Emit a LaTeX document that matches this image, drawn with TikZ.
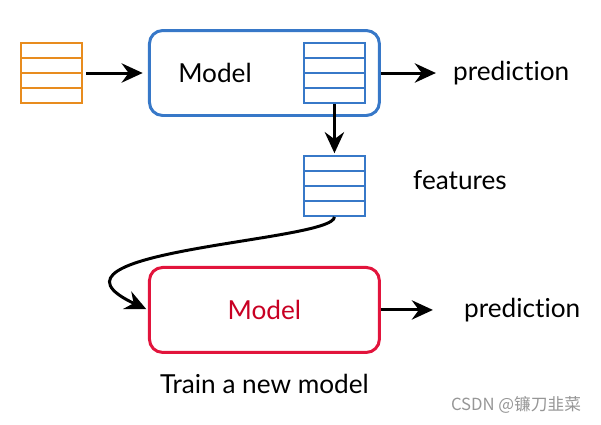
\documentclass[tikz,border=0pt]{standalone}
\usepackage{fontspec}
\setmainfont{Lato}[Ligatures=NoCommon]
\newfontfamily\cjkfont{Noto Sans CJK SC}
\usetikzlibrary{arrows.meta,positioning,calc}

\definecolor{inorange}{RGB}{232,140,30}
\definecolor{mblue}{RGB}{55,120,200}
\definecolor{mred}{RGB}{226,20,60}
\definecolor{mredtxt}{RGB}{200,0,35}
\definecolor{wmgray}{RGB}{150,150,150}

\begin{document}
\begin{tikzpicture}[x=0.02cm,y=-0.02cm,>={Stealth[length=12pt,width=11pt,inset=4pt]},
    font=\fontsize{14.9}{17}\selectfont,
    modelbox/.style={draw=#1,line width=1.7pt,rounded corners=7.5pt,minimum width=4.6cm,minimum height=1.7cm},
    featbox/.style={draw=#1,line width=1.1pt,minimum width=1.22cm,minimum height=1.2cm,inner sep=0pt,
      path picture={\foreach \k in {1,2,3}
        \draw[#1,line width=1.1pt] ($(path picture bounding box.south west)!\k/4!(path picture bounding box.north west)$)
          -- ($(path picture bounding box.south east)!\k/4!(path picture bounding box.north east)$);}},
    lbl/.style={inner sep=0pt}]
  \useasboundingbox (0,0) rectangle (601,424);

  \node[featbox=inorange] (inp) at (51.5,73) {};
  \node[modelbox=mblue] (mdl) [right=1.3cm of inp] {};
  \node[lbl] (mdltxt) [right=0.6cm of mdl.west] {Model};
  \node[featbox=mblue] (emb) [left=0.3cm of mdl.east] {};
  \node[featbox=mblue] (feat) [below=1.02cm of emb] {};
  \node[lbl] (feattxt) [right=0.94cm of feat,yshift=0.11cm] {features};
  \coordinate[right=1.1cm of mdl.east] (tipa);
  \node[lbl] (preda) [right=0.34cm of tipa] {prediction};

  \node[modelbox=mred,text=mredtxt] (newmdl) [below=2.98cm of mdl] {Model};
  \coordinate[right=1.04cm of newmdl.east] (tipb);
  \node[lbl] (predb) [right=0.62cm of tipb] {prediction};
  \node[lbl] (train) [below=0.4cm of newmdl] {Train a new model};

  \node[lbl,text=wmgray,font=\cjkfont\fontsize{9.5}{11}\selectfont] (wm) at (516,405) {CSDN @镰刀韭菜};

  \path[->,line width=1.7pt]
    (inp) edge [shorten <=2pt,shorten >=3pt] (mdl)
    (mdl) edge (tipa)
    (emb) edge [shorten >=1pt] (feat)
    (newmdl) edge (tipb)
    ;
  \draw[->,line width=1.7pt,shorten >=1pt] (feat.south) .. controls +(0,25) and (20,250) .. (newmdl.west);
\end{tikzpicture}
\end{document}
